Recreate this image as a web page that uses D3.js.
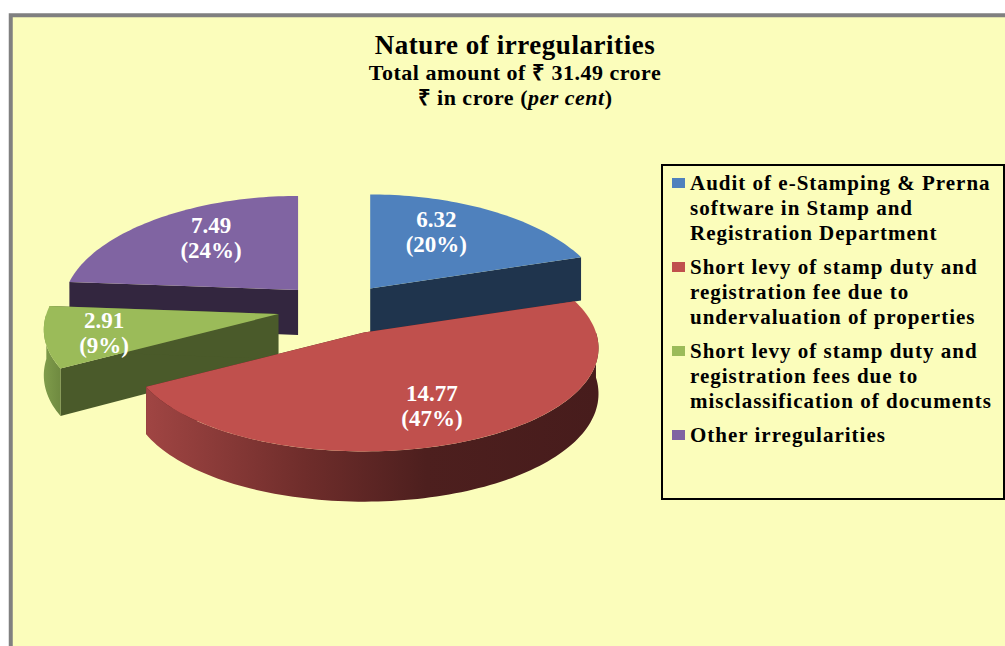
<!DOCTYPE html>
<html>
<head>
<meta charset="utf-8">
<script src="https://cdn.jsdelivr.net/npm/d3@7"></script>
<style>
  body { margin: 0; background: #fff; }
  text { font-family: "Liberation Serif", serif; font-weight: bold; }
</style>
</head>
<body>
<div id="chart"></div>
<script>
// Nature of irregularities - exploded 3D pie with a boxed legend
const categories = [
  "Audit of e-Stamping & Prerna software in Stamp and Registration Department",
  "Short levy of stamp duty and registration fee due to undervaluation of properties",
  "Short levy of stamp duty and registration fees due to misclassification of documents",
  "Other irregularities"
];
const amounts = [6.32, 14.77, 2.91, 7.49];
const percents = [20, 47, 9, 24];
const legendLines = [
  ["Audit of e-Stamping & Prerna", "software in Stamp and", "Registration Department"],
  ["Short levy of stamp duty and", "registration fee due to", "undervaluation of properties"],
  ["Short levy of stamp duty and", "registration fees due to", "misclassification of documents"],
  ["Other irregularities"]
];

const width = 1005, height = 646;
const topColors = ["#4f81bd", "#c0504d", "#9bbb59", "#8064a2"];
const wallColors = ["#1f344d", "#4d1f1e", "#4a5a2a", "#33263f"];

const svg = d3.select("#chart").append("svg")
  .attr("width", width)
  .attr("height", height)
  .style("display", "block");

const defs = svg.append("defs");
const redSide = defs.append("linearGradient").attr("id", "redSide");
[[0, "#a04543"], [0.35, "#6f2d2b"], [0.62, "#4d1f1e"], [1, "#471c1c"]].forEach(s => {
  redSide.append("stop").attr("offset", s[0]).attr("stop-color", s[1]);
});
const greenSide = defs.append("linearGradient").attr("id", "greenSide");
[[0, "#7f9c4b"], [1, "#6f8a40"]].forEach(s => {
  greenSide.append("stop").attr("offset", s[0]).attr("stop-color", s[1]);
});
const sideFills = ["none", "url(#redSide)", "url(#greenSide)", "none"];

// Panel
svg.append("rect")
  .attr("x", 10.75).attr("y", 15.25)
  .attr("width", width + 10).attr("height", height + 10)
  .attr("fill", "#fbfdbb")
  .attr("stroke", "#808080")
  .attr("stroke-width", 4);

// Titles
const titles = svg.append("g").attr("text-anchor", "middle").attr("fill", "#000");
titles.append("text").attr("x", 515).attr("y", 54).style("font-size", "27px")
  .style("letter-spacing", "0.55px")
  .text("Nature of irregularities");
titles.append("text").attr("x", 515).attr("y", 80).style("font-size", "22px")
  .style("letter-spacing", "0.5px")
  .text("Total amount of ₹ 31.49 crore");
const sub = titles.append("text").attr("x", 515).attr("y", 105).style("font-size", "22px")
  .style("letter-spacing", "0.5px");
sub.append("tspan").text("₹ in crore (");
sub.append("tspan").style("font-style", "italic").text("per cent");
sub.append("tspan").text(")");

// Pie geometry
const pie = d3.pie().sort(null).startAngle(0).endAngle(2 * Math.PI);
const arcs = pie(amounts);
const center = { x: 336, y: 311 };
const radiusX = 232, radiusY = 106.5, persp = 0.117, perspX = 0.15, depth = 45, explode = 0.25;
const nudge = [[0, -1], [5, -3], [-1, -2.6], [1.5, -1.5]];
const labelFrac = [[0.55, 0.72], [0.65, 0.68], [0.745, 0.83], [0.62, 0.73]];

const scaleAt = a => 1 - persp * Math.cos(a);
function project(a, apex, fx, fy) {
  return [
    apex[0] + Math.sin(a) * radiusX * (1 - perspX * Math.cos(a)) * fx,
    apex[1] - Math.cos(a) * radiusY * scaleAt(a) * fy
  ];
}
const line = d3.line();

arcs.forEach((d, i) => {
  const mid = (d.startAngle + d.endAngle) / 2;
  d.index = i;
  d.mid = mid;
  d.apex = [
    center.x + explode * radiusX * Math.sin(mid) + nudge[i][0],
    center.y - explode * radiusY * Math.cos(mid) + nudge[i][1]
  ];
});

const rimAngles = (a0, a1) => {
  const n = Math.max(2, Math.ceil((a1 - a0) * 40));
  return d3.range(n + 1).map(k => a0 + (a1 - a0) * k / n);
};

// Back slices first, so the front ones overlap them
const drawOrder = [3, 0, 2, 1];
const slices = svg.selectAll("g.slice")
  .data(drawOrder.map(i => arcs[i]))
  .join("g")
  .attr("class", "slice");

slices.each(function(d) {
  const g = d3.select(this);
  const i = d.index;
  const apex = d.apex;
  const wall = a => {
    const p = project(a, apex, 1, 1);
    const t = depth * scaleAt(a);
    return [apex, p, [p[0], p[1] + t], [apex[0], apex[1] + depth]];
  };
  [d.startAngle, d.endAngle].forEach(a => {
    g.append("path").attr("d", line(wall(a)) + "Z").attr("fill", wallColors[i]);
  });

  // outer rim only where it faces the viewer
  const a0 = Math.max(d.startAngle, Math.PI / 2), a1 = Math.min(d.endAngle, 1.5 * Math.PI);
  if (a1 > a0) {
    const upper = rimAngles(a0, a1).map(a => project(a, apex, 1, 1));
    const lower = rimAngles(a0, a1).reverse().map(a => {
      const p = project(a, apex, 1, 1);
      return [p[0], p[1] + depth * scaleAt(a)];
    });
    g.append("path").attr("d", line(upper.concat(lower)) + "Z").attr("fill", sideFills[i]);
  }

  const top = [apex].concat(rimAngles(d.startAngle, d.endAngle).map(a => project(a, apex, 1, 1)));
  g.append("path").attr("d", line(top) + "Z").attr("fill", topColors[i]);
});

// Data labels
arcs.forEach((d, i) => {
  const p = project(d.mid, d.apex, labelFrac[i][0], labelFrac[i][1]);
  const t = svg.append("text")
    .attr("text-anchor", "middle")
    .attr("fill", "#fff")
    .style("font-size", "23px");
  t.append("tspan").attr("x", p[0]).attr("y", p[1] - 5).text(amounts[i].toFixed(2));
  t.append("tspan").attr("x", p[0]).attr("y", p[1] + 20).text(`(${percents[i]}%)`);
});

// Legend
const legend = svg.append("g").attr("transform", "translate(662,165)");
legend.append("rect")
  .attr("width", 342).attr("height", 334)
  .attr("fill", "#fbfdbb")
  .attr("stroke", "#000")
  .attr("stroke-width", 2);

const lineStep = 25, groupGap = 9;
let rowY = 25;
legendLines.forEach((lines, i) => {
  legend.append("rect")
    .attr("x", 10).attr("y", rowY - 12)
    .attr("width", 13).attr("height", 10)
    .attr("fill", topColors[i]);
  lines.forEach((txt, k) => {
    legend.append("text")
      .attr("x", 28).attr("y", rowY + k * lineStep)
      .attr("fill", "#000")
      .style("font-size", "21px")
      .style("letter-spacing", "1px")
      .text(txt);
  });
  rowY += lines.length * lineStep + groupGap;
});
</script>
</body>
</html>
